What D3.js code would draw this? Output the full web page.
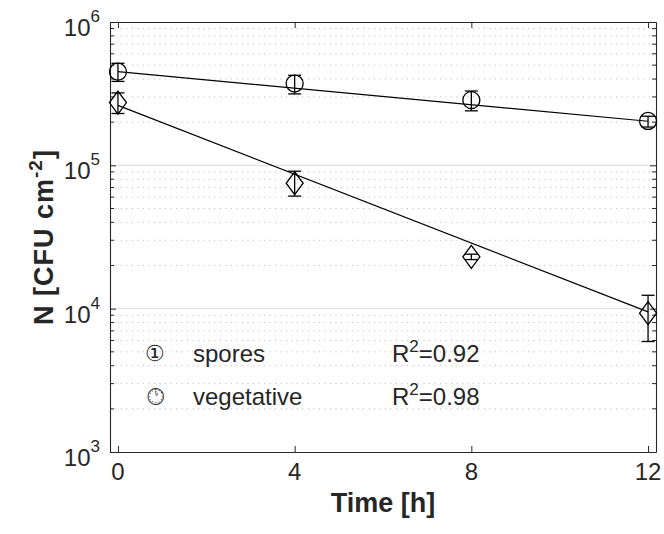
<!DOCTYPE html>
<html>
<head>
<meta charset="utf-8">
<script src="https://cdn.jsdelivr.net/npm/d3@7"></script>
<style>
body { margin: 0; background: #fff; }
text { font-family: "Liberation Sans", Arial, sans-serif; fill: #262626; }
</style>
</head>
<body>
<div id="chart"></div>
<script>
// data
const times = [0, 4, 8, 12];
const sporesMean = [4.5e5, 3.72e5, 2.85e5, 2.04e5];
const sporesLow = [3.85e5, 3.15e5, 2.4e5, 1.85e5];
const sporesHigh = [5.15e5, 4.25e5, 3.3e5, 2.2e5];
const vegMean = [2.74e5, 7.5e4, 2.3e4, 9.3e3];
const vegLow = [2.3e5, 6.1e4, 2.2e4, 5.9e3];
const vegHigh = [3.2e5, 9.1e4, 2.4e4, 1.24e4];
const fitTimes = [0, 12];
const sporesFit = [4.5e5, 2.03e5];
const vegFit = [2.62e5, 9.5e3];
const xTicks = [0, 4, 8, 12];
const yExponents = [3, 4, 5, 6];
const legendIcons = ["\u2460", "\u{1F550}\uFE0E"];
const legendLabels = ["spores", "vegetative"];
const r2Values = ["0.92", "0.98"];

const width = 664, height = 534;
const margin = {top: 22, right: 8, bottom: 82, left: 110};

const svg = d3.select("#chart").append("svg")
    .attr("width", width)
    .attr("height", height);

const x = d3.scaleLinear()
    .domain([-0.18, 12.18])
    .range([margin.left, width - margin.right]);

const y = d3.scaleLog()
    .domain([1e3, 1e6])
    .range([height - margin.bottom, margin.top]);

// grid
const minorTicks = [];
yExponents.slice(0, -1).forEach(function(e) {
    for (let k = 2; k <= 9; k++) minorTicks.push(k * Math.pow(10, e));
});
svg.append("g").selectAll("line")
    .data(minorTicks)
    .enter().append("line")
    .attr("x1", margin.left).attr("x2", width - margin.right)
    .attr("y1", d => y(d)).attr("y2", d => y(d))
    .attr("stroke", "#b8b8b8")
    .attr("stroke-width", 1)
    .attr("stroke-dasharray", "1,4.5");
svg.append("g").selectAll("line")
    .data(yExponents.slice(1, -1).map(e => Math.pow(10, e)))
    .enter().append("line")
    .attr("x1", margin.left).attr("x2", width - margin.right)
    .attr("y1", d => y(d)).attr("y2", d => y(d))
    .attr("stroke", "#dcdcdc")
    .attr("stroke-width", 1);

// axes (ticks point inward, box all round)
const bottom = height - margin.bottom, right = width - margin.right;
function styleAxis(g) {
    g.select(".domain").attr("stroke", "#262626").attr("stroke-width", 1.1);
    g.selectAll(".tick line").attr("stroke", "#262626").attr("stroke-width", 1);
    g.selectAll(".tick text").remove();
}
svg.append("g").attr("transform", `translate(0,${bottom})`)
    .call(d3.axisBottom(x).tickValues(xTicks).tickSizeInner(-6).tickSizeOuter(0))
    .call(styleAxis);
svg.append("g").attr("transform", `translate(0,${margin.top})`)
    .call(d3.axisTop(x).tickValues(xTicks).tickSizeInner(-6).tickSizeOuter(0))
    .call(styleAxis);
const majorY = yExponents.map(e => Math.pow(10, e));
svg.append("g").attr("transform", `translate(${margin.left},0)`)
    .call(d3.axisLeft(y).tickValues(majorY).tickSizeInner(-6).tickSizeOuter(0))
    .call(styleAxis);
svg.append("g").attr("transform", `translate(${right},0)`)
    .call(d3.axisRight(y).tickValues(majorY).tickSizeInner(-6).tickSizeOuter(0))
    .call(styleAxis);
// minor y ticks
[[margin.left, 4], [right, -4]].forEach(function(p) {
    svg.append("g").selectAll("line")
        .data(minorTicks)
        .enter().append("line")
        .attr("x1", p[0]).attr("x2", p[0] + p[1])
        .attr("y1", d => y(d)).attr("y2", d => y(d))
        .attr("stroke", "#262626");
});

// tick labels
svg.append("g").selectAll("text")
    .data(xTicks)
    .enter().append("text")
    .attr("x", d => x(d))
    .attr("y", bottom + 28)
    .attr("text-anchor", "middle")
    .attr("font-size", 24)
    .text(d => d);
const yl = svg.append("g").selectAll("text")
    .data(yExponents)
    .enter().append("text")
    .attr("x", margin.left - 10)
    .attr("y", d => y(Math.pow(10, d)) + 14)
    .attr("text-anchor", "end")
    .attr("font-size", 24);
yl.append("tspan").text("10");
yl.append("tspan").attr("dy", -14).attr("font-size", 17).text(d => d);

// axis titles
svg.append("text")
    .attr("x", (margin.left + right) / 2)
    .attr("y", 512)
    .attr("text-anchor", "middle")
    .attr("font-size", 27)
    .attr("font-weight", "bold")
    .text("Time [h]");
const ylab = svg.append("text")
    .attr("transform", `translate(53,${(margin.top + bottom) / 2}) rotate(-90)`)
    .attr("text-anchor", "middle")
    .attr("font-size", 27)
    .attr("font-weight", "bold")
    .attr("letter-spacing", 1);
ylab.append("tspan").text("N [CFU cm");
ylab.append("tspan").attr("dy", -11).attr("font-size", 19).text("-2");
ylab.append("tspan").attr("dy", 11).text("]");

// fit lines
const line = d3.line().x(d => x(d[0])).y(d => y(d[1]));
[sporesFit, vegFit].forEach(function(fit) {
    svg.append("path")
        .attr("d", line(fitTimes.map((t, i) => [t, fit[i]])))
        .attr("fill", "none")
        .attr("stroke", "#000")
        .attr("stroke-width", 1.2);
});

// error bars
function errorBars(mean, low, high) {
    const g = svg.append("g").attr("stroke", "#000").attr("stroke-width", 1.3);
    times.forEach(function(t, i) {
        g.append("line").attr("x1", x(t)).attr("x2", x(t)).attr("y1", y(low[i])).attr("y2", y(high[i]));
        [low[i], high[i]].forEach(function(v) {
            g.append("line").attr("x1", x(t) - 6.5).attr("x2", x(t) + 6.5).attr("y1", y(v)).attr("y2", y(v));
        });
    });
}
errorBars(sporesMean, sporesLow, sporesHigh);
errorBars(vegMean, vegLow, vegHigh);

// markers
svg.append("g").selectAll("circle")
    .data(times)
    .enter().append("circle")
    .attr("cx", d => x(d))
    .attr("cy", (d, i) => y(sporesMean[i]))
    .attr("r", 8.5)
    .attr("fill", "none")
    .attr("stroke", "#000")
    .attr("stroke-width", 1.3);
svg.append("g").selectAll("path")
    .data(times)
    .enter().append("path")
    .attr("d", function(d, i) {
        const cx = x(d), cy = y(vegMean[i]);
        return `M${cx},${cy - 11.5}L${cx + 8.5},${cy}L${cx},${cy + 11.5}L${cx - 8.5},${cy}Z`;
    })
    .attr("fill", "none")
    .attr("stroke", "#000")
    .attr("stroke-width", 1.3);

// legend
const leg = svg.append("g").selectAll("g")
    .data(legendLabels)
    .enter().append("g")
    .attr("transform", (d, i) => `translate(0,${362 + i * 43})`);
leg.append("text")
    .attr("x", 155)
    .attr("y", -1)
    .attr("text-anchor", "middle")
    .attr("font-family", "DejaVu Sans")
    .attr("font-size", 22)
    .text((d, i) => legendIcons[i]);
leg.append("text")
    .attr("x", 193)
    .attr("font-size", 24)
    .text(d => d);
const r2 = leg.append("text")
    .attr("x", 392)
    .attr("font-size", 24);
r2.append("tspan").text("R");
r2.append("tspan").attr("dy", -10).attr("font-size", 17).text("2");
r2.append("tspan").attr("dy", 10).text((d, i) => "=" + r2Values[i]);
</script>
</body>
</html>
